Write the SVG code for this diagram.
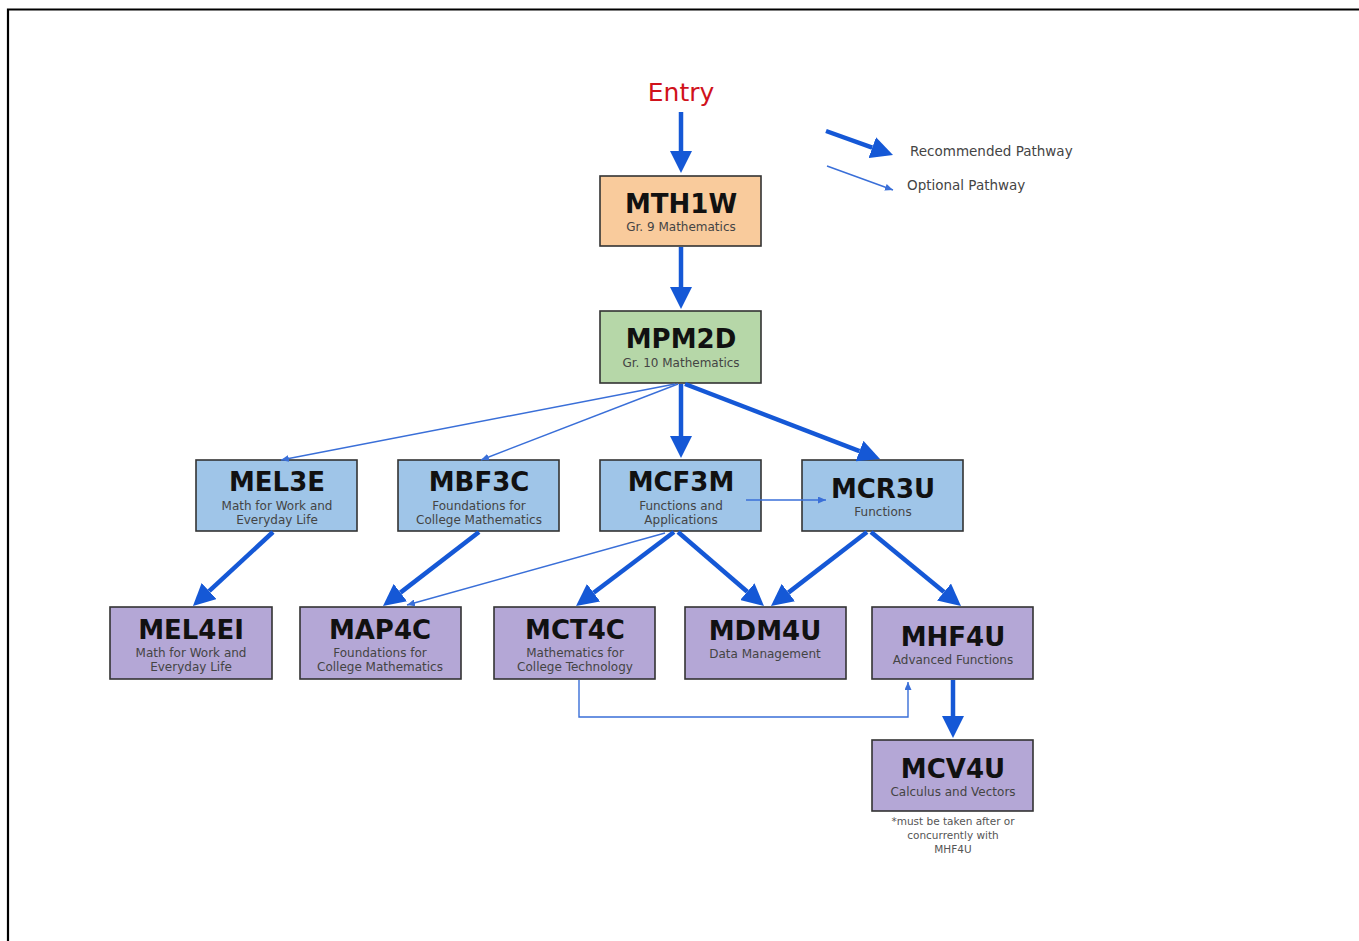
<svg xmlns="http://www.w3.org/2000/svg" width="1359" height="941" viewBox="0 0 1359 941">
<style>
.box{stroke:#333;stroke-width:1.6}
.t{font-family:"DejaVu Sans","Liberation Sans",sans-serif;font-size:26px;font-weight:bold;fill:#111;text-anchor:middle}
.s{font-family:"DejaVu Sans","Liberation Sans",sans-serif;font-size:12px;fill:#444;text-anchor:middle}
.thick{stroke:#1558d6;stroke-width:4.5;fill:none;marker-end:url(#hb)}
.thin{stroke:#3a6fd8;stroke-width:1.4;fill:none;marker-end:url(#hs)}
.leg{font-family:"DejaVu Sans","Liberation Sans",sans-serif;font-size:13.5px;fill:#444}
.note{font-family:"DejaVu Sans","Liberation Sans",sans-serif;font-size:10.5px;fill:#555;text-anchor:middle}
</style>
<defs>
<marker id="hb" markerUnits="userSpaceOnUse" markerWidth="22" markerHeight="22" viewBox="0 0 22 22" refX="0" refY="11" orient="auto"><path d="M0,0 L22,11 L0,22 z" fill="#1558d6"/></marker>
<marker id="hs" markerUnits="userSpaceOnUse" markerWidth="8" markerHeight="7" viewBox="0 0 8 7" refX="8" refY="3.5" orient="auto"><path d="M0,0 L8,3.5 L0,7 z" fill="#3a6fd8"/></marker>
</defs>
<rect width="1359" height="941" fill="#fff"/>
<path d="M8,941 V9.5 H1359" stroke="#000" stroke-width="2.2" fill="none"/>

<g id="entry"><text x="681" y="101" font-family="DejaVu Sans,Liberation Sans,sans-serif" font-size="25" fill="#d0121b" text-anchor="middle">Entry</text></g>

<g id="legend">
<line class="thick" x1="826" y1="131" x2="872.3" y2="147.6"/>
<text class="leg" x="910" y="156">Recommended Pathway</text>
<line class="thin" x1="827" y1="166" x2="893" y2="190"/>
<text class="leg" x="907" y="190">Optional Pathway</text>
</g>

<g id="MTH1W"><rect class="box" x="600" y="176" width="161" height="70" fill="#f9cb9c"/>
<text class="t" x="681" y="213">MTH1W</text><text class="s" x="681" y="231">Gr. 9 Mathematics</text></g>

<g id="MPM2D"><rect class="box" x="600" y="311" width="161" height="72" fill="#b6d7a8"/>
<text class="t" x="681" y="348">MPM2D</text><text class="s" x="681" y="367">Gr. 10 Mathematics</text></g>

<g id="MEL3E"><rect class="box" x="196" y="460" width="161" height="71" fill="#9fc5e8"/>
<text class="t" x="277" y="491">MEL3E</text><text class="s" x="277" y="510">Math for Work and</text><text class="s" x="277" y="524">Everyday Life</text></g>

<g id="MBF3C"><rect class="box" x="398" y="460" width="161" height="71" fill="#9fc5e8"/>
<text class="t" x="479" y="491">MBF3C</text><text class="s" x="479" y="510">Foundations for</text><text class="s" x="479" y="524">College Mathematics</text></g>

<g id="MCF3M"><rect class="box" x="600" y="460" width="161" height="71" fill="#9fc5e8"/>
<text class="t" x="681" y="491">MCF3M</text><text class="s" x="681" y="510">Functions and</text><text class="s" x="681" y="524">Applications</text></g>

<g id="MCR3U"><rect class="box" x="802" y="460" width="161" height="71" fill="#9fc5e8"/>
<text class="t" x="883" y="498">MCR3U</text><text class="s" x="883" y="516">Functions</text></g>

<g id="MEL4EI"><rect class="box" x="110" y="607" width="162" height="72" fill="#b4a7d6"/>
<text class="t" x="191" y="639">MEL4EI</text><text class="s" x="191" y="657">Math for Work and</text><text class="s" x="191" y="671">Everyday Life</text></g>

<g id="MAP4C"><rect class="box" x="300" y="607" width="161" height="72" fill="#b4a7d6"/>
<text class="t" x="380" y="639">MAP4C</text><text class="s" x="380" y="657">Foundations for</text><text class="s" x="380" y="671">College Mathematics</text></g>

<g id="MCT4C"><rect class="box" x="494" y="607" width="161" height="72" fill="#b4a7d6"/>
<text class="t" x="575" y="639">MCT4C</text><text class="s" x="575" y="657">Mathematics for</text><text class="s" x="575" y="671">College Technology</text></g>

<g id="MDM4U"><rect class="box" x="685" y="607" width="161" height="72" fill="#b4a7d6"/>
<text class="t" x="765" y="640">MDM4U</text><text class="s" x="765" y="658">Data Management</text></g>

<g id="MHF4U"><rect class="box" x="872" y="607" width="161" height="72" fill="#b4a7d6"/>
<text class="t" x="953" y="646">MHF4U</text><text class="s" x="953" y="664">Advanced Functions</text></g>

<g id="MCV4U"><rect class="box" x="872" y="740" width="161" height="71" fill="#b4a7d6"/>
<text class="t" x="953" y="778">MCV4U</text><text class="s" x="953" y="796">Calculus and Vectors</text>
<text class="note" x="953" y="825">*must be taken after or</text><text class="note" x="953" y="839">concurrently with</text><text class="note" x="953" y="853">MHF4U</text></g>

<g id="connectors">
<line class="thick" x1="681" y1="112" x2="681" y2="151"/>
<line class="thick" x1="681" y1="247" x2="681" y2="287"/>
<line class="thick" x1="681" y1="384" x2="681" y2="436"/>
<line class="thick" x1="685" y1="384" x2="859.5" y2="451.1"/>
<line class="thin" x1="675" y1="384" x2="281" y2="460"/>
<line class="thin" x1="678" y1="384" x2="481" y2="460"/>
<line class="thick" x1="273" y1="532" x2="209.1" y2="591.1"/>
<line class="thick" x1="479" y1="532" x2="400.4" y2="592.6"/>
<line class="thin" x1="665" y1="533" x2="407" y2="605"/>
<line class="thick" x1="674" y1="532" x2="593.6" y2="592.7"/>
<line class="thick" x1="678" y1="532" x2="747.3" y2="591.7"/>
<line class="thick" x1="867" y1="532" x2="788.4" y2="592.6"/>
<line class="thick" x1="871" y1="532" x2="944" y2="592"/>
<line class="thin" x1="746" y1="500" x2="826" y2="500"/>
<path class="thin" d="M579,680 V717 H908 V682"/>
<line class="thick" x1="953" y1="680" x2="953" y2="716"/>
</g>
</svg>
